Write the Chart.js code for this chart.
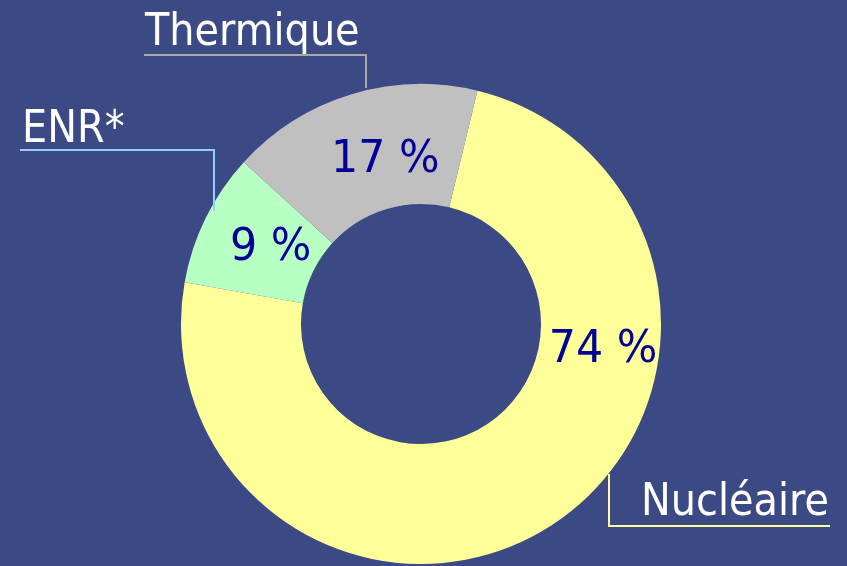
<!DOCTYPE html>
<html>
<head>
<meta charset="utf-8">
<script src="https://cdn.jsdelivr.net/npm/chart.js@4"></script>
<style>
  html, body { margin: 0; padding: 0; background: #3b4a85; overflow: hidden; }
  canvas { display: block; }
</style>
</head>
<body>
<canvas id="donutChart" width="847" height="566"></canvas>
<script>
// Répartition de la production
const categories = ['Nucléaire', 'ENR*', 'Thermique'];
const shares = [74, 9, 17];
const sliceColors = ['#ffff99', '#b7ffc2', '#c0c0c0'];
const lineColors = ['#ffff99', '#99ccff', '#a8a8a8'];

// where each percent sits inside its slice (fraction along arc, fraction across ring)
const labelAlong = [0.312, 0.56, 0.583];
const labelAcross = [0.527, 0.42, 0.436];

// outside captions: text anchor and leader line (elbow) points
const callouts = [
  { x: 641, y: 515, line: [[609, 474], [609, 526], [830, 526]] },
  { x: 22, y: 142, line: [[20, 150], [214, 150], [214, 211]] },
  { x: 145, y: 45, line: [[144, 55], [366, 55], [366, 88]] }
];

// DejaVu is a bit wide compared to the original face, squeeze it
function squeezedText(ctx, text, x, y, sx) {
  ctx.save();
  ctx.translate(x, y);
  ctx.scale(sx, 1);
  ctx.fillText(text, 0, 0);
  ctx.restore();
}

const labelsPlugin = {
  id: 'sliceLabels',
  afterDatasetsDraw(chart) {
    const ctx = chart.ctx;
    const meta = chart.getDatasetMeta(0);
    ctx.save();
    meta.data.forEach((arc, i) => {
      const p = arc.getProps(['x', 'y', 'startAngle', 'endAngle', 'innerRadius', 'outerRadius'], true);
      const a = p.startAngle + (p.endAngle - p.startAngle) * labelAlong[i];
      const r = p.innerRadius + (p.outerRadius - p.innerRadius) * labelAcross[i];
      ctx.font = '45px "DejaVu Sans"';
      ctx.fillStyle = '#000099';
      ctx.textAlign = 'center';
      ctx.textBaseline = 'alphabetic';
      squeezedText(ctx, shares[i] + ' %', p.x + Math.cos(a) * r, p.y + Math.sin(a) * r + 16.5, 0.95);

      const c = callouts[i];
      ctx.strokeStyle = lineColors[i];
      ctx.lineWidth = 2;
      ctx.beginPath();
      c.line.forEach((pt, k) => k ? ctx.lineTo(pt[0], pt[1]) : ctx.moveTo(pt[0], pt[1]));
      ctx.stroke();

      ctx.font = '45px "DejaVu Sans"';
      ctx.fillStyle = '#ffffff';
      ctx.textAlign = 'left';
      squeezedText(ctx, categories[i], c.x, c.y, 0.885);
    });
    ctx.restore();
  }
};

const ctx = document.getElementById('donutChart').getContext('2d');
const donutChart = new Chart(ctx, {
  type: 'doughnut',
  data: {
    labels: categories,
    datasets: [{
      data: shares,
      backgroundColor: sliceColors,
      borderWidth: 0
    }]
  },
  options: {
    responsive: false,
    animation: false,
    cutout: '50%',
    rotation: 13.6,
    layout: { padding: { top: 84, bottom: 2, left: 181, right: 186 } },
    plugins: {
      legend: { display: false },
      tooltip: { enabled: false }
    }
  },
  plugins: [labelsPlugin]
});
</script>
</body>
</html>
